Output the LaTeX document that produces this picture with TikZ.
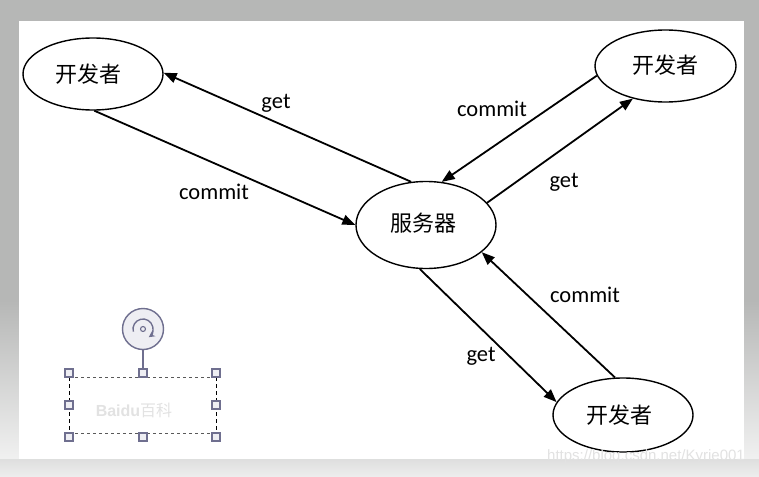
\documentclass[tikz,border=0pt]{standalone}
\usepackage{fontspec}
\setmainfont{Carlito}
\newfontfamily\cjk{Noto Sans CJK SC}[BoldFont={Noto Sans CJK SC}]
\newfontfamily\wmfont{Liberation Sans}
\usetikzlibrary{shapes.geometric,arrows.meta}
\definecolor{bggray}{HTML}{B6B7B6}
\definecolor{hdl}{HTML}{6F6F8F}
\definecolor{hdlfill}{HTML}{EEEEF3}
\definecolor{wmgray}{HTML}{E2E2E2}
\begin{document}
\begin{tikzpicture}[x=1pt,y=-1pt,
  ell/.style={draw=black, line width=1.4pt, ellipse, inner sep=0pt, font=\cjk\fontsize{22}{22}\selectfont},
  conn/.style={draw=black, line width=1.8pt, -{Triangle[length=13pt,width=10pt]}},
  lbl/.style={font=\fontsize{22.5}{22.5}\selectfont, inner sep=0pt},
  handle/.style={draw=hdl, fill=hdlfill, line width=1.4pt, minimum size=8pt, inner sep=0pt, rectangle}]
\useasboundingbox (0,0) rectangle (759,476);
% background
\fill[bggray] (0,0) rectangle (759,476);
\shade[top color=bggray, bottom color=white!80!bggray] (744,300) rectangle (759,459);
\shade[top color=bggray, bottom color=white!80!bggray] (0,300) rectangle (19,459);
\shade[top color=white!55!bggray, bottom color=white!75!bggray] (0,459) rectangle (759,476);
\fill[white] (19,21) rectangle (744,459);

% nodes
\node[ell, minimum width=140pt, minimum height=72pt] (d1) at (93,74) {\hspace*{-10pt}开发者};
\node[ell, minimum width=141pt, minimum height=72pt] (d2) at (665.5,66) {\raisebox{3pt}{开发者}};
\node[ell, minimum width=140pt, minimum height=87pt] (s) at (426,225) {\raisebox{5pt}{服务器}\hspace*{6pt}};
\node[ell, minimum width=140pt, minimum height=74pt] (d3) at (623,415) {\raisebox{1pt}{开发者}\hspace*{8pt}};

% connectors
\draw[conn] (s.109) -- (d1.1);
\draw[conn] (d1.-88) -- (s.180);
\draw[conn] (d2.188) -- (s.70);
\draw[conn] (s.20) -- (d2.225);
\draw[conn] (d3.102) -- (s.-26);
\draw[conn] (s.262) -- (d3.169);

% labels
\node[lbl] (l1) at (276,103) {get};
\node[lbl] (l2) at (214,192) {commit};
\node[lbl] (l3) at (492,109) {commit};
\node[lbl] (l4) at (564,182) {get};
\node[lbl] (l5) at (585,295) {commit};
\node[lbl] (l6) at (481,356) {get};

% selection box with watermark
\node[font=\wmfont\bfseries\fontsize{16}{16}\selectfont, text=wmgray] (wm1) at (134,410) {Baidu{\cjk 百科}};
\draw[gray!70!black, line width=1pt, dash pattern=on 3pt off 3pt] (69,377) -- (216,377);
\draw[gray!70!black, line width=1pt, dash pattern=on 3pt off 3pt] (69,433) -- (216,433);
\draw[black, line width=1pt, dash pattern=on 4pt off 3pt] (69,377) -- (69,433);
\draw[black, line width=1pt, dash pattern=on 4pt off 3pt] (216,377) -- (216,433);
\node[handle] (h1) at (69,373) {};
\node[handle] (h2) at (143,373) {};
\node[handle] (h3) at (216,373) {};
\node[handle] (h4) at (69,405) {};
\node[handle] (h5) at (216,405) {};
\node[handle] (h6) at (69,437) {};
\node[handle] (h7) at (143,437) {};
\node[handle] (h8) at (216,437) {};
\node[circle, draw=hdl, fill=hdlfill, line width=1.4pt, minimum size=41pt, inner sep=0pt] (rot) at (143,329) {};
\draw[hdl, line width=1.4pt] (rot.south) -- (h2.north);
\draw[hdl, line width=1.4pt, -{Stealth[length=6pt,width=6pt]}] ([shift={(195:10pt)}]rot.center) arc[start angle=195, end angle=-55, radius=10pt];
\draw[hdl, line width=1.1pt] (rot.center) circle[radius=2.5pt];

% csdn watermark
\node[font=\wmfont\fontsize{15}{15}\selectfont, text=wmgray, inner sep=0pt] (wm2) at (646,457) {https://blog.csdn.net/Kyrie001};
\end{tikzpicture}
\end{document}
